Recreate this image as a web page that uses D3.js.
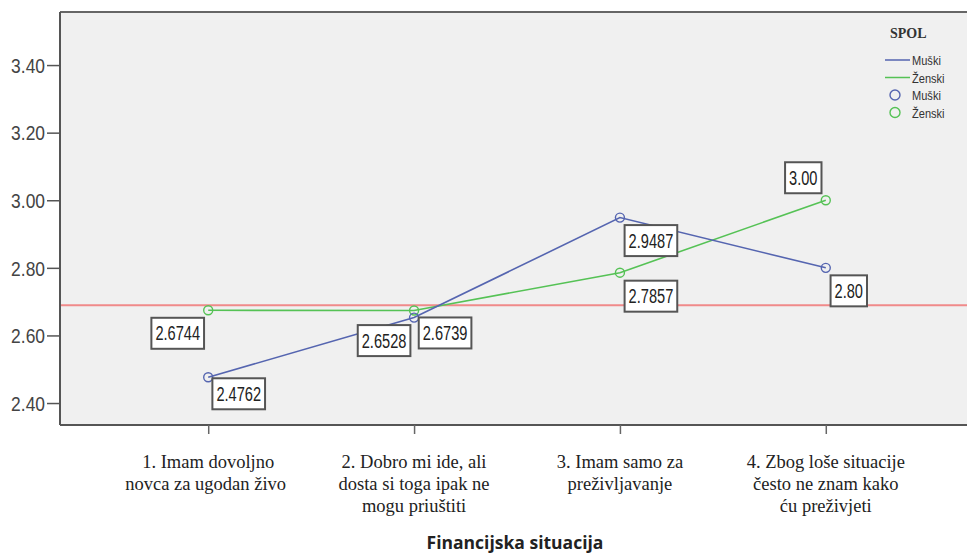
<!DOCTYPE html>
<html lang="hr">
<head>
<meta charset="utf-8">
<title>Financijska situacija - SPOL</title>
<script src="https://d3js.org/d3.v7.min.js"></script>
<style>
  body { margin: 0; background: #fff; }
  svg { display: block; }
  .tick-label { font-family: "Liberation Sans", Arial, sans-serif; font-size: 20px; fill: #444; }
  .cat-label { font-family: "Liberation Serif", "Times New Roman", serif; font-size: 18.5px; fill: #222; }
  .val-label { font-family: "Liberation Sans", Arial, sans-serif; font-size: 20px; fill: #222; }
  .axis-title { font-family: "Open Sans", "Noto Sans", sans-serif; font-size: 17.5px; font-weight: 700; fill: #222; }
  .legend-text { font-family: "Liberation Sans", Arial, sans-serif; font-size: 13px; fill: #333; }
  .legend-title { font-family: "Liberation Serif", "Times New Roman", serif; font-size: 14px; font-weight: 600; fill: #333; }
</style>
</head>
<body>
<script>
// categories (x axis) - each entry is the wrapped lines
var categories = [
  ["1. Imam dovoljno", "novca za ugodan život"],
  ["2. Dobro mi ide, ali", "dosta si toga ipak ne", "mogu priuštiti"],
  ["3. Imam samo za", "preživljavanje"],
  ["4. Zbog loše situacije", "često ne znam kako", "ću preživjeti"]
];
var muski = [2.4762, 2.6528, 2.9487, 2.80];
var zenski = [2.6744, 2.6739, 2.7857, 3.00];
var muskiLabels = ["2.4762", "2.6528", "2.9487", "2.80"];
var zenskiLabels = ["2.6744", "2.6739", "2.7857", "3.00"];
var yTicks = [2.40, 2.60, 2.80, 3.00, 3.20, 3.40];
var refValue = 2.6895;

var width = 967, height = 556;
var pLeft = 60, pTop = 12, pRight = 974, pBottom = 425;

var svg = d3.select("body").append("svg")
    .attr("width", width)
    .attr("height", height);

var x = d3.scalePoint()
    .domain(d3.range(categories.length))
    .range([pLeft, pRight])
    .padding(0.72);

var y = d3.scaleLinear()
    .domain([2.335, 3.557])
    .range([pBottom, pTop]);

// squeeze a text horizontally (the original uses a condensed face)
function squeeze(sel, f) {
  sel.each(function() {
    var w = this.getComputedTextLength();
    d3.select(this).attr("textLength", w * f).attr("lengthAdjust", "spacingAndGlyphs");
  });
}

// plot background
svg.append("rect")
    .attr("x", pLeft).attr("y", pTop)
    .attr("width", pRight - pLeft).attr("height", pBottom - pTop)
    .attr("fill", "#f0f0f0");

// top border
svg.append("line")
    .attr("x1", pLeft).attr("x2", pRight)
    .attr("y1", pTop).attr("y2", pTop)
    .attr("stroke", "#666").attr("stroke-width", 2);

// y axis
var yAxis = svg.append("g")
    .attr("transform", "translate(" + pLeft + ",0)")
    .call(d3.axisLeft(y).tickValues(yTicks).tickFormat(d3.format(".2f")).tickSize(13).tickSizeOuter(0));
yAxis.select(".domain").attr("stroke", "#555").attr("stroke-width", 2)
    .attr("d", "M0," + pTop + "V" + pBottom);
yAxis.selectAll(".tick line").attr("stroke", "#555").attr("stroke-width", 1.5);
yAxis.selectAll(".tick text").attr("class", "tick-label").attr("x", -15).attr("dy", "0.36em")
    .call(squeeze, 0.87);

// x axis
var xAxis = svg.append("g")
    .attr("transform", "translate(0," + pBottom + ")")
    .call(d3.axisBottom(x).tickSize(9).tickSizeOuter(0).tickFormat(""));
xAxis.select(".domain").attr("stroke", "#555").attr("stroke-width", 2)
    .attr("d", "M" + pLeft + ",0H" + pRight);
xAxis.selectAll(".tick line").attr("stroke", "#666").attr("stroke-width", 1.5);

// category labels (first one is clipped like in the original)
svg.append("clipPath").attr("id", "clip0")
  .append("rect").attr("x", x(0) - 100).attr("y", 440).attr("width", 178).attr("height", 80);

categories.forEach(function(lines, i) {
  var t = svg.append("text")
      .attr("class", "cat-label")
      .attr("text-anchor", "middle")
      .attr("x", x(i))
      .attr("y", 468);
  if (i === 0) t.attr("clip-path", "url(#clip0)");
  lines.forEach(function(l, j) {
    t.append("tspan").attr("x", x(i)).attr("dy", j === 0 ? 0 : 22).text(l);
  });
});

// axis title
svg.append("text")
    .attr("class", "axis-title")
    .attr("text-anchor", "middle")
    .attr("x", 515).attr("y", 549)
    .text("Financijska situacija");

// reference line
svg.append("line")
    .attr("x1", pLeft + 1).attr("x2", pRight)
    .attr("y1", y(refValue)).attr("y2", y(refValue))
    .attr("stroke", "#f08a8a").attr("stroke-width", 2);

var blue = "#5565b0", green = "#55c255";
var line = d3.line().x(function(d, i) { return x(i); }).y(function(d) { return y(d); });

svg.append("path").datum(zenski).attr("d", line)
    .attr("fill", "none").attr("stroke", green).attr("stroke-width", 1.6);
svg.append("path").datum(muski).attr("d", line)
    .attr("fill", "none").attr("stroke", blue).attr("stroke-width", 1.6);

svg.selectAll(".pt-z").data(zenski).enter().append("circle")
    .attr("cx", function(d, i) { return x(i); })
    .attr("cy", function(d) { return y(d); })
    .attr("r", 4.5).attr("fill", "none").attr("stroke", green).attr("stroke-width", 1.4);
svg.selectAll(".pt-m").data(muski).enter().append("circle")
    .attr("cx", function(d, i) { return x(i); })
    .attr("cy", function(d) { return y(d); })
    .attr("r", 4.5).attr("fill", "none").attr("stroke", blue).attr("stroke-width", 1.4);

// value labels: offsets of the box centre from the point
var muskiOff = [[30.5, 16.5], [-30, 23], [31, 23], [23, 23]];
var zenskiOff = [[-30.5, 23], [31, 22.5], [31, 23.5], [-22.5, -22.5]];

function addLabel(val, txt, off, i) {
  var cx = x(i) + off[0], cy = y(val) + off[1];
  var g = svg.append("g");
  var t = g.append("text")
      .attr("class", "val-label")
      .attr("text-anchor", "middle")
      .attr("x", cx).attr("y", cy)
      .attr("dy", "0.36em")
      .text(txt);
  var w = t.node().getComputedTextLength() * 0.73 + 8;
  t.call(squeeze, 0.73);
  g.insert("rect", "text")
      .attr("x", cx - w / 2).attr("y", cy - 15.5)
      .attr("width", w).attr("height", 31)
      .attr("fill", "#fff").attr("stroke", "#555").attr("stroke-width", 2);
}
zenski.forEach(function(v, i) { addLabel(v, zenskiLabels[i], zenskiOff[i], i); });
muski.forEach(function(v, i) { addLabel(v, muskiLabels[i], muskiOff[i], i); });

// legend
var lg = svg.append("g").attr("transform", "translate(885,0)");
lg.append("text").attr("class", "legend-title").attr("x", 5).attr("y", 38).text("SPOL");
var legendItems = [
  { type: "line", color: blue, label: "Muški" },
  { type: "line", color: green, label: "Ženski" },
  { type: "circle", color: blue, label: "Muški" },
  { type: "circle", color: green, label: "Ženski" }
];
legendItems.forEach(function(d, i) {
  var yy = 60 + i * 17.5;
  if (d.type === "line") {
    lg.append("line").attr("x1", 0).attr("x2", 25).attr("y1", yy).attr("y2", yy)
      .attr("stroke", d.color).attr("stroke-width", 1.5);
  } else {
    lg.append("circle").attr("cx", 10).attr("cy", yy).attr("r", 5)
      .attr("fill", "none").attr("stroke", d.color).attr("stroke-width", 1.4);
  }
  lg.append("text").attr("class", "legend-text").attr("x", 27).attr("y", yy + 5)
    .text(d.label).call(squeeze, 0.85);
});
</script>
</body>
</html>
